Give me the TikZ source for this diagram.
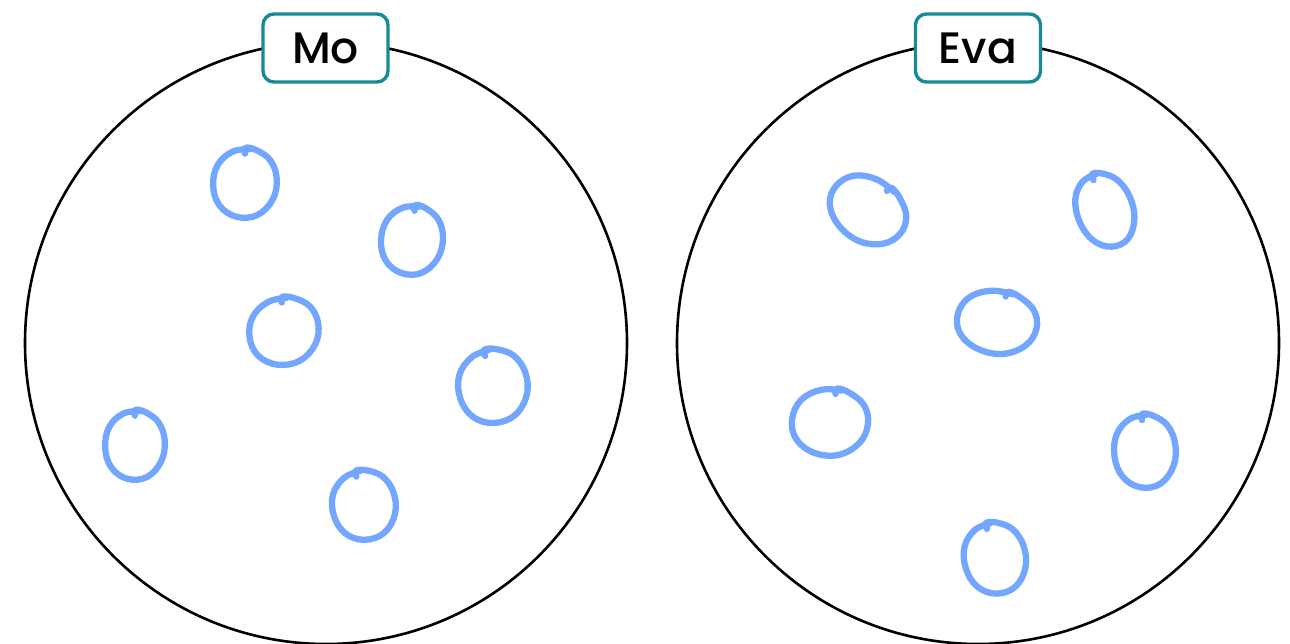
\documentclass[tikz,border=0pt]{standalone}
\usepackage{fontspec}
\newfontfamily\labelfont{Poppins}[UprightFont=* Medium]
\definecolor{tealbox}{RGB}{22,138,150}
\definecolor{loopblue}{RGB}{114,166,255}
\tikzset{
  bigcirc/.style={draw=black, line width=2.6pt},
  namebox/.style={draw=tealbox, fill=white, line width=3.4pt, rounded corners=11pt,
    minimum width=125pt, minimum height=68pt, inner sep=0pt,
    font=\labelfont\fontsize{44}{50}\selectfont},
  loopstroke/.style={draw=loopblue, line width=6.3pt, line cap=round, line join=round},
  hand/.pic={
    \draw[loopstroke] plot[smooth, tension=0.65] coordinates {
      (0.25,-0.98) (-0.3,-0.95) (-0.8,-0.6) (-1,0) (-0.85,0.6) (-0.35,0.97)
      (0.3,0.97) (0.82,0.55) (1,-0.05) (0.85,-0.6) (0.45,-0.93) (0.12,-1.03) (0.08,-0.86)};
  }
}
\begin{document}
\begin{tikzpicture}[x=1pt, y=-1pt]
\useasboundingbox (0,0) rectangle (1290,644);
% big circles
\node[bigcirc, circle, minimum size=602pt, inner sep=0pt] (left) at (326,343) {};
\node[bigcirc, circle, minimum size=602pt, inner sep=0pt] (right) at (978,343) {};
% labels
\node[namebox] (mo) at (325.5,48) {Mo};
\node[namebox] (eva) at (978,48) {Eva};
% left loops
\pic[rotate=5, xscale=32, yscale=34] at (245,183) {hand};
\pic[rotate=0, xscale=31, yscale=34] at (412,240) {hand};
\pic[rotate=10, xscale=35, yscale=33] at (284,331) {hand};
\pic[rotate=20, xscale=35, yscale=36] at (493,386) {hand};
\pic[rotate=5, xscale=30, yscale=34] at (135,445) {hand};
\pic[rotate=20, xscale=32, yscale=34] at (364,505) {hand};
% right loops
\pic[rotate=-38, xscale=40, yscale=31] at (868,210) {hand};
\pic[rotate=25, xscale=28, yscale=37] at (1105,210) {hand};
\pic[rotate=-12, xscale=40, yscale=31] at (997,322) {hand};
\pic[rotate=-5, xscale=38, yscale=33] at (830,422) {hand};
\pic[rotate=10, xscale=31, yscale=36] at (1145,451) {hand};
\pic[rotate=20, xscale=31, yscale=35] at (995,558) {hand};
\end{tikzpicture}
\end{document}
